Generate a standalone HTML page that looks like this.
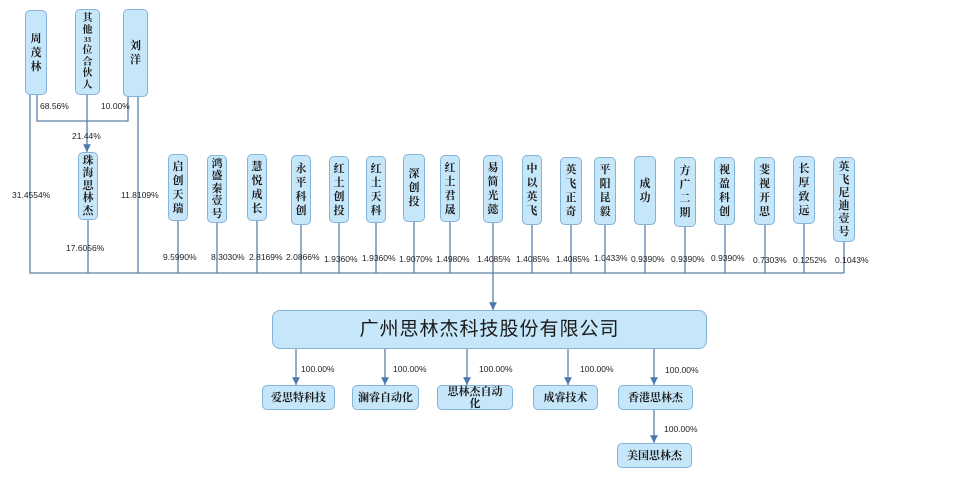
<!DOCTYPE html>
<html><head><meta charset="utf-8">
<style>
html,body{margin:0;padding:0;background:#fff;}
body{width:965px;height:478px;position:relative;overflow:hidden;font-family:"Liberation Serif","Noto Serif CJK SC",serif;}
.b{position:absolute;box-sizing:border-box;background:#c6e6f9;border:1px solid #86b3d8;border-radius:5px;display:flex;flex-direction:column;align-items:center;justify-content:center;font-weight:bold;color:#1a1a1a;font-size:11px;line-height:14px;text-align:center;}
.p{position:absolute;font-family:"Liberation Sans",sans-serif;font-size:8.5px;color:#222;white-space:nowrap;}
svg{position:absolute;left:0;top:0;}
</style></head><body>
<svg width="965" height="478">
<defs>
<marker id="d" viewBox="0 0 6 6" markerWidth="6" markerHeight="6" refX="3" refY="6" orient="0"><path d="M0,0 L6,0 L3,6 z" fill="#4a78aa"/></marker></defs>
<g stroke="#5a80aa" stroke-width="1.3" fill="none">
<path d="M30,95 V273 H844"/>
<path d="M37,95 V121 H128 V97"/>
<path d="M87,95 V152" marker-end="url(#d)"/>
<path d="M88,220 V273"/>
<path d="M138,97 V273"/>
<path d="M178,221V273M217,223V273M257,221V273M301,225V273M339,223V273M376,223V273M414,222V273M450,222V273M493,223V273M532,225V273M571,225V273M605,225V273M645,225V273M685,227V273M725,225V273M765,225V273M804,224V273M844,242V273"/>
<path d="M493,273 V310" marker-end="url(#d)"/>
<path d="M296,349V385" marker-end="url(#d)"/>
<path d="M385,349V385" marker-end="url(#d)"/>
<path d="M467,349V385" marker-end="url(#d)"/>
<path d="M568,349V385" marker-end="url(#d)"/>
<path d="M654,349V385" marker-end="url(#d)"/>
<path d="M654,410V443" marker-end="url(#d)"/>
</g></svg>

<div class="b" style="left:25px;top:10px;width:22px;height:85px">周<br>茂<br>林</div>
<div class="b" style="left:75px;top:9px;width:25px;height:86px;font-size:10px;line-height:11.5px">其<br>他<br><span style="font-size:7px;line-height:9px">33</span>位<br>合<br>伙<br>人</div>
<div class="b" style="left:123px;top:9px;width:25px;height:88px">刘<br>洋</div>
<div class="b" style="left:78px;top:152px;width:20px;height:68px;line-height:12.5px">珠<br>海<br>思<br>林<br>杰</div>

<div class="p" style="left:40px;top:101px">68.56%</div>
<div class="p" style="left:101px;top:101px">10.00%</div>
<div class="p" style="left:72px;top:131px">21.44%</div>
<div class="p" style="left:12px;top:190px">31.4554%</div>
<div class="p" style="left:121px;top:190px">11.8109%</div>
<div class="p" style="left:66px;top:243px">17.6056%</div>

<div class="b" style="left:168px;top:154px;width:20px;height:67px">启<br>创<br>天<br>瑞</div>
<div class="b" style="left:207px;top:155px;width:20px;height:68px;line-height:12.5px">鸿<br>盛<br>秦<br>壹<br>号</div>
<div class="b" style="left:247px;top:154px;width:20px;height:67px">慧<br>悦<br>成<br>长</div>
<div class="b" style="left:291px;top:155px;width:20px;height:70px">永<br>平<br>科<br>创</div>
<div class="b" style="left:329px;top:156px;width:20px;height:67px">红<br>土<br>创<br>投</div>
<div class="b" style="left:366px;top:156px;width:20px;height:67px">红<br>土<br>天<br>科</div>
<div class="b" style="left:403px;top:154px;width:22px;height:68px">深<br>创<br>投</div>
<div class="b" style="left:440px;top:155px;width:20px;height:67px">红<br>土<br>君<br>晟</div>
<div class="b" style="left:483px;top:155px;width:20px;height:68px">易<br>简<br>光<br>懿</div>
<div class="b" style="left:522px;top:155px;width:20px;height:70px">中<br>以<br>英<br>飞</div>
<div class="b" style="left:560px;top:157px;width:22px;height:68px">英<br>飞<br>正<br>奇</div>
<div class="b" style="left:594px;top:157px;width:22px;height:68px">平<br>阳<br>昆<br>毅</div>
<div class="b" style="left:634px;top:156px;width:22px;height:69px">成<br>功</div>
<div class="b" style="left:674px;top:157px;width:22px;height:70px">方<br>广<br>二<br>期</div>
<div class="b" style="left:714px;top:157px;width:21px;height:68px">视<br>盈<br>科<br>创</div>
<div class="b" style="left:754px;top:157px;width:21px;height:68px">斐<br>视<br>开<br>思</div>
<div class="b" style="left:793px;top:156px;width:22px;height:68px">长<br>厚<br>致<br>远</div>
<div class="b" style="left:833px;top:157px;width:22px;height:85px;line-height:13px">英<br>飞<br>尼<br>迪<br>壹<br>号</div>

<div class="p" style="left:163px;top:252px">9.5990%</div>
<div class="p" style="left:211px;top:252px">8.3030%</div>
<div class="p" style="left:249px;top:252px">2.8169%</div>
<div class="p" style="left:286px;top:252px">2.0866%</div>
<div class="p" style="left:324px;top:254px">1.9360%</div>
<div class="p" style="left:362px;top:253px">1.9360%</div>
<div class="p" style="left:399px;top:254px">1.9070%</div>
<div class="p" style="left:436px;top:254px">1.4980%</div>
<div class="p" style="left:477px;top:254px">1.4085%</div>
<div class="p" style="left:516px;top:254px">1.4085%</div>
<div class="p" style="left:556px;top:254px">1.4085%</div>
<div class="p" style="left:594px;top:253px">1.0433%</div>
<div class="p" style="left:631px;top:254px">0.9390%</div>
<div class="p" style="left:671px;top:254px">0.9390%</div>
<div class="p" style="left:711px;top:253px">0.9390%</div>
<div class="p" style="left:753px;top:255px">0.7303%</div>
<div class="p" style="left:793px;top:255px">0.1252%</div>
<div class="p" style="left:835px;top:255px">0.1043%</div>

<div class="b" style="left:272px;top:310px;width:435px;height:39px;border-radius:8px;font-size:19px;font-weight:normal;flex-direction:row;font-family:'Liberation Sans','Noto Sans CJK SC',sans-serif;letter-spacing:1px">广州思林杰科技股份有限公司</div>

<div class="p" style="left:301px;top:364px">100.00%</div>
<div class="p" style="left:393px;top:364px">100.00%</div>
<div class="p" style="left:479px;top:364px">100.00%</div>
<div class="p" style="left:580px;top:364px">100.00%</div>
<div class="p" style="left:665px;top:365px">100.00%</div>
<div class="p" style="left:664px;top:424px">100.00%</div>

<div class="b" style="left:262px;top:385px;width:73px;height:25px;flex-direction:row">爱思特科技</div>
<div class="b" style="left:352px;top:385px;width:67px;height:25px;flex-direction:row">澜睿自动化</div>
<div class="b" style="left:437px;top:385px;width:76px;height:25px;line-height:12px">思林杰自动<br>化</div>
<div class="b" style="left:533px;top:385px;width:65px;height:25px;flex-direction:row">成睿技术</div>
<div class="b" style="left:618px;top:385px;width:75px;height:25px;flex-direction:row">香港思林杰</div>
<div class="b" style="left:617px;top:443px;width:75px;height:25px;flex-direction:row">美国思林杰</div>
</body></html>
